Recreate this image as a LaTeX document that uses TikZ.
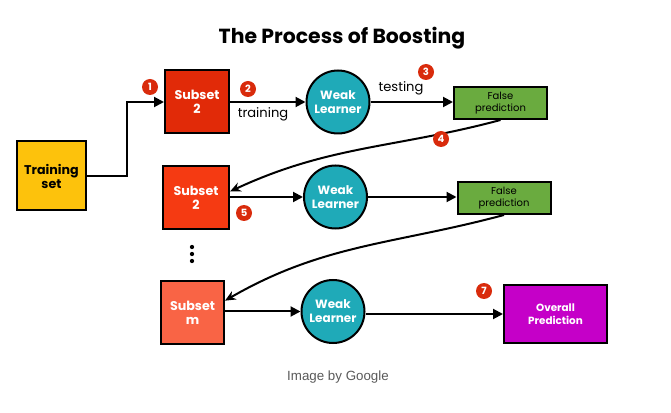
\documentclass[tikz,border=0pt]{standalone}
\usepackage{fontspec}
\setmainfont{Poppins}
\newfontfamily\capfont{Liberation Sans}
\usetikzlibrary{arrows.meta, positioning, shapes}
\definecolor{trainyellow}{HTML}{FDC20C}
\definecolor{subred}{HTML}{E12A08}
\definecolor{subredb}{HTML}{F53A12}
\definecolor{suborange}{HTML}{F96445}
\definecolor{learnteal}{HTML}{1FAAB8}
\definecolor{falsegreen}{HTML}{6AAB3F}
\definecolor{overmagenta}{HTML}{C500C8}
\definecolor{badgered}{HTML}{D92B0C}

\tikzset{
    box/.style={draw=black, line width=1.5pt, inner sep=1pt, align=center},
    subsetbox/.style={box, fill=#1, text=white, minimum width=48pt, minimum height=47.25pt,
        font=\bfseries\fontsize{9.5}{10.5}\selectfont},
    learner/.style={circle, draw=black, line width=1.5pt, fill=learnteal, text=white,
        minimum size=47.25pt, inner sep=0pt, align=center, font=\bfseries\fontsize{9}{10.5}\selectfont},
    falsebox/.style={box, fill=falsegreen, minimum width=69.75pt, minimum height=24pt,
        font=\fontsize{7.5}{9}\selectfont},
    badge/.style={circle, fill=badgered, text=white, minimum size=12pt, inner sep=0pt,
        font=\bfseries\fontsize{7.5}{7.5}\selectfont},
    flow/.style={line width=1.5pt, -{Triangle[length=7.5pt,width=7.5pt]}},
    back/.style={line width=1.5pt, -{Stealth[length=8pt,width=7pt]}},
    lbl/.style={font=\fontsize{9.8}{11}\selectfont},
}

\begin{document}
\begin{tikzpicture}[x=0.75pt, y=-0.75pt]
    \useasboundingbox (0,0) rectangle (671,413);
    \node[font=\bfseries\fontsize{15.3}{18}\selectfont] (title) at (342,38) {The Process of Boosting};

    \node[box, fill=trainyellow, minimum width=51.75pt, minimum height=51.75pt,
        font=\bfseries\fontsize{9.5}{10.5}\selectfont] (train) at (51.5,176) {Training\\set};

    \node[subsetbox=subred] (sub1) at (197,102) {Subset\\2};
    \node[learner] (wl1) at (338,102) {Weak\\Learner};
    \node[falsebox] (fp1) at (500.5,103) {False\\prediction};

    \node[subsetbox=subredb, minimum width=49.5pt] (sub2) at (196,197.5) {Subset\\2};
    \node[learner] (wl2) at (335.5,197) {Weak\\Learner};
    \node[falsebox] (fp2) at (504,198) {False\\prediction};

    \node[subsetbox=suborange, minimum width=47.25pt] (subm) at (192.5,312.5) {Subset\\m};
    \node[learner] (wl3) at (333,311.5) {Weak\\Learner};
    \node[box, fill=overmagenta, text=white, minimum width=77.25pt, minimum height=43.5pt,
        font=\bfseries\fontsize{7.8}{9.5}\selectfont] (over) at (555.5,314) {Overall\\Prediction};

    \foreach \y in {247,254,261}
        \fill (192,\y) circle (1.6pt);

    \draw[flow] (train.east) -- ++(40,0) |- (sub1.west);
    \draw[flow] (sub1.east |- wl1.west) -- (wl1.west);
    \draw[flow] (wl1.east) -- (wl1.east -| fp1.west);
    \draw[back] (fp1.south) to[out=195, in=25] (sub2.10);
    \draw[flow] (sub2.east |- wl2.west) -- (wl2.west);
    \draw[flow] (wl2.east) -- (wl2.east -| fp2.west);
    \draw[back] (fp2.south) to[out=195, in=30] (subm.20);
    \draw[flow] (subm.east |- wl3.west) -- (wl3.west);
    \draw[flow] (wl3.east |- over.west) -- (over.west);

    \node[lbl] (training) at (263,114) {training};
    \node[lbl] (testing) at (401,88) {testing};

    \node[badge] (b1) at (150,87) {1};
    \node[badge] (b2) at (248,89) {2};
    \node[badge] (b3) at (426,72) {3};
    \node[badge] (b4) at (441,139) {4};
    \node[badge] (b5) at (244,213) {5};
    \node[badge] (b7) at (484,291) {7};

    \node[font=\capfont\fontsize{10}{12}\selectfont, text=black!65] (credit) at (338,377) {Image by Google};
\end{tikzpicture}
\end{document}
